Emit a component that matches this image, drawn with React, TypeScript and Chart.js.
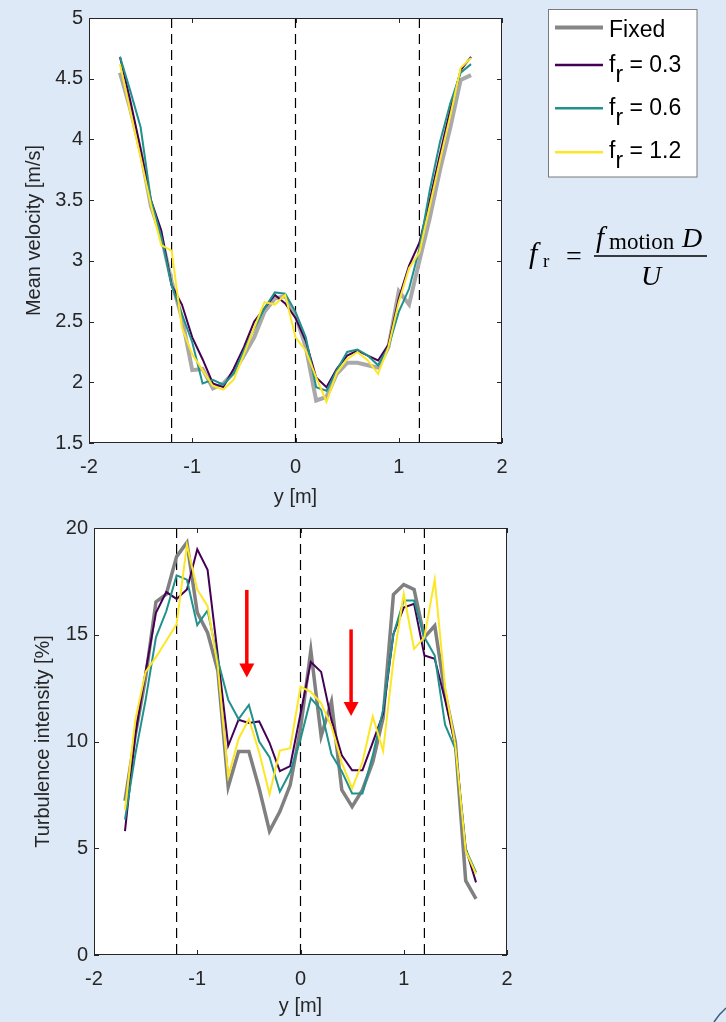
import React, { useEffect, useRef } from 'react';
import { Chart, registerables } from 'chart.js';

Chart.register(...registerables);

// ---------- data ----------
const Y_POS = [-1.7, -1.6, -1.5, -1.4, -1.3, -1.2, -1.1, -1.0, -0.9, -0.8, -0.7, -0.6, -0.5, -0.4, -0.3, -0.2, -0.1, 0, 0.1, 0.2, 0.3, 0.4, 0.5, 0.6, 0.7, 0.8, 0.9, 1.0, 1.1, 1.2, 1.3, 1.4, 1.5, 1.6, 1.7];

const SERIES_NAMES = ['Fixed', '0.3', '0.6', '1.2'];

// Mean velocity [m/s]
const VEL_FIXED = [4.55, 4.25, 3.9, 3.45, 3.2, 2.83, 2.53, 2.1, 2.11, 1.95, 1.99, 2.08, 2.22, 2.37, 2.58, 2.69, 2.71, 2.55, 2.29, 1.85, 1.88, 2.07, 2.16, 2.16, 2.14, 2.12, 2.29, 2.75, 2.64, 3.0, 3.35, 3.75, 4.1, 4.49, 4.53];
const VEL_F03 = [4.68, 4.32, 3.92, 3.5, 3.25, 2.8, 2.64, 2.37, 2.19, 1.99, 1.96, 2.11, 2.29, 2.5, 2.61, 2.72, 2.65, 2.53, 2.34, 2.04, 1.96, 2.11, 2.22, 2.26, 2.22, 2.18, 2.31, 2.69, 2.96, 3.15, 3.5, 3.88, 4.25, 4.57, 4.68];
const VEL_F06 = [4.68, 4.4, 4.1, 3.5, 3.2, 2.8, 2.56, 2.33, 1.99, 2.02, 1.98, 2.07, 2.26, 2.44, 2.61, 2.74, 2.73, 2.58, 2.37, 1.96, 1.93, 2.1, 2.25, 2.27, 2.22, 2.14, 2.29, 2.58, 2.77, 3.1, 3.58, 3.98, 4.3, 4.55, 4.62];
const VEL_F12 = [4.62, 4.23, 3.85, 3.46, 3.13, 3.085, 2.45, 2.23, 2.1, 1.97, 1.94, 2.02, 2.23, 2.45, 2.66, 2.64, 2.72, 2.37, 2.26, 2.04, 1.84, 2.08, 2.19, 2.25, 2.18, 2.07, 2.29, 2.66, 2.94, 3.07, 3.45, 3.83, 4.2, 4.59, 4.67];

// Turbulence intensity [%]
const TI_FIXED = [7.22, 10.3, 13.0, 16.54, 16.9, 18.66, 19.32, 16.04, 15.1, 13.3, 7.88, 9.53, 9.53, 7.8, 5.8, 6.72, 7.96, 10.6, 14.26, 10.25, 11.87, 7.73, 6.95, 7.73, 9.04, 11.1, 16.88, 17.35, 17.12, 14.88, 15.42, 12.25, 9.96, 3.48, 2.63];
const TI_F03 = [5.8, 10.3, 13.3, 16.03, 17.0, 16.68, 17.12, 19.0, 18.04, 14.0, 9.8, 11.02, 10.87, 10.94, 9.94, 8.61, 8.85, 11.3, 13.72, 13.26, 11.0, 9.35, 8.65, 8.65, 9.96, 11.3, 15.03, 16.27, 16.45, 14.03, 13.87, 11.95, 9.81, 5.0, 3.4];
const TI_F06 = [6.34, 9.4, 11.95, 14.88, 16.1, 17.78, 17.58, 15.45, 16.14, 13.8, 11.95, 11.05, 11.71, 10.0, 9.27, 7.65, 8.57, 10.1, 12.02, 11.48, 9.4, 8.6, 7.57, 7.57, 9.35, 11.48, 15.03, 16.6, 16.6, 14.88, 14.03, 10.79, 9.66, 4.95, 3.87];
const TI_F12 = [6.8, 11.0, 13.26, 13.95, 14.72, 15.5, 19.2, 17.12, 16.34, 13.5, 8.34, 10.12, 11.05, 9.5, 7.53, 9.58, 9.69, 12.56, 12.33, 11.79, 10.71, 9.0, 7.8, 9.04, 11.17, 9.55, 13.8, 16.91, 14.34, 14.88, 17.58, 12.56, 9.81, 4.87, 3.79];

const DIVIDERS = [-1.2, 0, 1.2];
const ARROW_X = [-0.52, 0.49];
const ARROW_FROM = [17.1, 15.25];
const ARROW_TO = [13.0, 11.2];

// ---------- styling ----------
const BG = '#dde9f7';
const AXIS = '#262626';
const FONT = "'Liberation Sans', Arial, sans-serif";
const COLORS = { fixedTop: '#a9a9a9', fixedBottom: '#808080', f03: '#440154', f06: '#21918c', f12: '#fde725' };

const toPts = (vals: number[]) => Y_POS.map((y, i) => ({ x: y, y: vals[i] }));

const framePlugin = {
  id: 'frameTicks',
  beforeDatasetsDraw(chart: any) {
    const { ctx, chartArea: a } = chart;
    ctx.save();
    ctx.fillStyle = '#ffffff';
    ctx.fillRect(a.left, a.top, a.width, a.height);
    ctx.restore();
  },
  afterDatasetsDraw(chart: any) {
    const { ctx, chartArea: a, scales } = chart;
    ctx.save();
    ctx.strokeStyle = AXIS;
    ctx.lineWidth = 1;
    ctx.strokeRect(a.left + 0.5, a.top + 0.5, a.width - 1, a.height - 1);
    const L = 5;
    ctx.beginPath();
    scales.x.ticks.forEach((t: any) => {
      const px = Math.round(scales.x.getPixelForValue(t.value)) + 0.5;
      ctx.moveTo(px, a.bottom); ctx.lineTo(px, a.bottom - L);
      ctx.moveTo(px, a.top); ctx.lineTo(px, a.top + L);
    });
    scales.y.ticks.forEach((t: any) => {
      const py = Math.round(scales.y.getPixelForValue(t.value)) + 0.5;
      ctx.moveTo(a.left, py); ctx.lineTo(a.left + L, py);
      ctx.moveTo(a.right, py); ctx.lineTo(a.right - L, py);
    });
    ctx.stroke();
    ctx.restore();
  },
};

const arrowPlugin = {
  id: 'arrows',
  afterDatasetsDraw(chart: any, _args: any, opts: any) {
    if (!opts || !opts.enabled) return;
    const { ctx, scales } = chart;
    ctx.save();
    ctx.strokeStyle = '#ff0000';
    ctx.fillStyle = '#ff0000';
    ARROW_X.forEach((xv, i) => {
      const x = scales.x.getPixelForValue(xv);
      const y0 = scales.y.getPixelForValue(ARROW_FROM[i]);
      const y1 = scales.y.getPixelForValue(ARROW_TO[i]);
      const head = 14;
      ctx.lineWidth = 3.5;
      ctx.beginPath();
      ctx.moveTo(x, y0);
      ctx.lineTo(x, y1 - head + 1);
      ctx.stroke();
      ctx.beginPath();
      ctx.moveTo(x - 7.5, y1 - head);
      ctx.lineTo(x + 7.5, y1 - head);
      ctx.lineTo(x, y1);
      ctx.closePath();
      ctx.fill();
    });
    ctx.restore();
  },
};

function buildConfig(p: {
  fixed: number[]; f03: number[]; f06: number[]; f12: number[];
  yMin: number; yMax: number; yStep: number; yTitle: string;
  yWidth: number; xHeight: number; yTitlePad: number; xTitlePad: number; xTickPad: number;
  padTop: number; padRight: number; fixedColor: string; fixedWidth: number; arrows: boolean;
}): any {
  const font = { family: FONT, size: 20 };
  const dividerSets = DIVIDERS.map((d) => ({
    data: [{ x: d, y: p.yMax }, { x: d, y: p.yMin }],
    borderColor: '#000000',
    borderWidth: 1.2,
    borderDash: [10, 6],
    pointRadius: 0,
    order: 10,
  }));
  const line = (vals: number[], color: string, width: number, order: number, label: string) => ({
    label,
    data: toPts(vals),
    borderColor: color,
    backgroundColor: color,
    borderWidth: width,
    pointRadius: 0,
    tension: 0,
    fill: false,
    order,
  });
  return {
    type: 'line',
    data: {
      datasets: [
        line(p.fixed, p.fixedColor, p.fixedWidth, 4, SERIES_NAMES[0]),
        line(p.f03, COLORS.f03, 2, 3, SERIES_NAMES[1]),
        line(p.f06, COLORS.f06, 2, 2, SERIES_NAMES[2]),
        line(p.f12, COLORS.f12, 2, 1, SERIES_NAMES[3]),
        ...dividerSets,
      ],
    },
    options: {
      responsive: false,
      animation: false,
      devicePixelRatio: 1,
      layout: { padding: { top: p.padTop, right: p.padRight, left: 0, bottom: 0 } },
      plugins: { legend: { display: false }, tooltip: { enabled: false }, arrows: { enabled: p.arrows } },
      scales: {
        x: {
          type: 'linear',
          min: -2,
          max: 2,
          ticks: { stepSize: 1, padding: p.xTickPad, color: AXIS, font, callback: (v: any) => String(v) },
          grid: { display: false, drawTicks: false },
          border: { display: false },
          title: { display: true, text: 'y [m]', color: AXIS, font, padding: { top: 0, bottom: p.xTitlePad } },
          afterFit: (s: any) => { s.height = p.xHeight; },
        },
        y: {
          type: 'linear',
          min: p.yMin,
          max: p.yMax,
          ticks: { stepSize: p.yStep, padding: 6, color: AXIS, font, callback: (v: any) => String(v) },
          grid: { display: false, drawTicks: false },
          border: { display: false },
          title: { display: true, text: p.yTitle, color: AXIS, font, padding: { top: p.yTitlePad, bottom: 0 } },
          afterFit: (s: any) => { s.width = p.yWidth; },
        },
      },
    },
    plugins: [framePlugin, arrowPlugin],
  };
}

function ChartCanvas({ config, width, height, left, top }: { config: any; width: number; height: number; left: number; top: number }) {
  const ref = useRef<HTMLCanvasElement | null>(null);
  useEffect(() => {
    if (!ref.current) return;
    const chart = new Chart(ref.current, config);
    return () => chart.destroy();
  }, [config]);
  return (
    <canvas
      ref={ref}
      width={width}
      height={height}
      style={{ position: 'absolute', left, top, width, height }}
    />
  );
}

const topConfig = buildConfig({
  fixed: VEL_FIXED, f03: VEL_F03, f06: VEL_F06, f12: VEL_F12,
  yMin: 1.5, yMax: 5, yStep: 0.5, yTitle: 'Mean velocity [m/s]',
  yWidth: 89, xHeight: 72, yTitlePad: 22, xTitlePad: 6, xTickPad: 12,
  padTop: 13, padRight: 28, fixedColor: COLORS.fixedTop, fixedWidth: 4, arrows: false,
});

const bottomConfig = buildConfig({
  fixed: TI_FIXED, f03: TI_F03, f06: TI_F06, f12: TI_F12,
  yMin: 0, yMax: 20, yStep: 5, yTitle: 'Turbulence intensity [%]',
  yWidth: 94, xHeight: 67, yTitlePad: 31, xTitlePad: 4, xTickPad: 12,
  padTop: 14, padRight: 28, fixedColor: COLORS.fixedBottom, fixedWidth: 3.5, arrows: true,
});

function Legend() {
  const rows = [
    { color: '#868686', width: 4, lineY: 27.5, base: 37.3, label: SERIES_NAMES[0], sub: false },
    { color: COLORS.f03, width: 2.5, lineY: 65, base: 71.7, label: SERIES_NAMES[1], sub: true },
    { color: COLORS.f06, width: 2.5, lineY: 108.3, base: 115, label: SERIES_NAMES[2], sub: true },
    { color: COLORS.f12, width: 2.5, lineY: 152.3, base: 158.3, label: SERIES_NAMES[3], sub: true },
  ];
  return (
    <svg width={726} height={320} style={{ position: 'absolute', left: 0, top: 0 }}>
      <rect x={548.5} y={9.5} width={148.5} height={167.5} fill="#ffffff" stroke="#7a7a7a" strokeWidth={1} />
      {rows.map((r, i) => (
        <g key={i}>
          <line x1={555} x2={603} y1={r.lineY} y2={r.lineY} stroke={r.color} strokeWidth={r.width} />
          {r.sub ? (
            <text x={609} y={r.base} fontFamily={FONT} fontSize={23} fill="#000">
              f<tspan dy={10}>r</tspan><tspan dy={-10}>{' = ' + r.label}</tspan>
            </text>
          ) : (
            <text x={609} y={r.base} fontFamily={FONT} fontSize={23} fill="#000">{r.label}</text>
          )}
        </g>
      ))}
      <g fontFamily="'Liberation Serif', 'DejaVu Serif', serif" fill="#000">
        <text x={529} y={263} fontSize={30} fontStyle="italic">f</text>
        <text x={543} y={267} fontSize={19}>r</text>
        <text x={566} y={265} fontSize={28}>=</text>
        <text x={596} y={247} fontSize={29} fontStyle="italic">f</text>
        <text x={609} y={249} fontSize={23}>motion</text>
        <text x={682} y={247} fontSize={28} fontStyle="italic">D</text>
        <line x1={594} x2={707} y1={256} y2={256} stroke="#000" strokeWidth={1.5} />
        <text x={641} y={285} fontSize={28} fontStyle="italic">U</text>
      </g>
    </svg>
  );
}

export default function App() {
  return (
    <div style={{ position: 'fixed', left: 0, top: 0, width: 726, height: 1022, background: BG, overflow: 'hidden' }}>
      <ChartCanvas config={topConfig} width={530} height={515} left={0} top={0} />
      <ChartCanvas config={bottomConfig} width={535} height={512} left={0} top={510} />
      <Legend />
      <svg width={726} height={1022} style={{ position: 'absolute', left: 0, top: 0, pointerEvents: 'none' }}>
        <path d="M 714 1022 Q 719 1014 726 1008" stroke="#3a5a80" strokeWidth={1.5} fill="none" />
      </svg>
    </div>
  );
}
